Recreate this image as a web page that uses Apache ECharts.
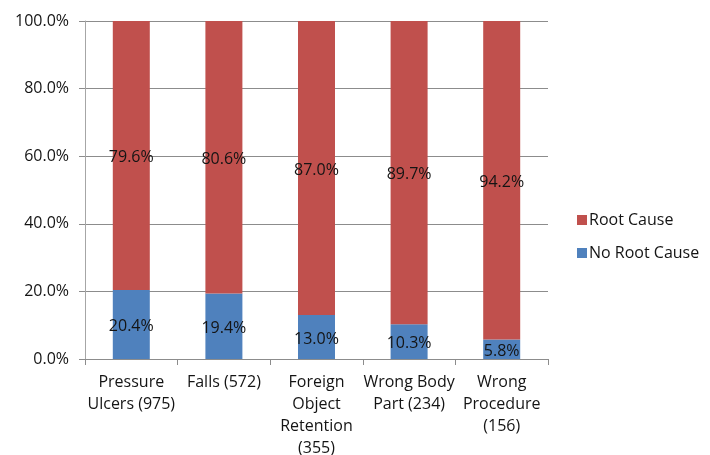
<!DOCTYPE html>
<html>
<head>
<meta charset="utf-8">
<script src="https://cdn.jsdelivr.net/npm/echarts@6/dist/echarts.min.js"></script>
<style>
  html, body { margin: 0; padding: 0; background: #fff; }
  #chart { width: 710px; height: 455px; }
</style>
</head>
<body>
<div id="chart"></div>
<script>
// Event types with case counts (wrapped for the category axis)
const categories = [
  'Pressure\nUlcers (975)',
  'Falls (572)',
  'Foreign\nObject\nRetention\n(355)',
  'Wrong Body\nPart (234)',
  'Wrong\nProcedure\n(156)'
];
// Share of events (%) with and without an identified root cause
const noRootCause = [20.4, 19.4, 13.0, 10.3, 5.8];
const rootCause = [79.6, 80.6, 87.0, 89.7, 94.2];
const yTicks = { min: 0, max: 100, interval: 20 };

const FONT = '"Open Sans", "Noto Sans", sans-serif';
const TEXT = '#141414';
const pct = v => v.toFixed(1) + '%';

const chart = echarts.init(document.getElementById('chart'), null, { renderer: 'canvas' });
chart.setOption({
  animation: false,
  backgroundColor: '#ffffff',
  textStyle: { fontFamily: FONT },
  grid: {
    left: 85, right: 162, top: 21, bottom: 96,
    containLabel: false,
    // the last category label runs past the bottom edge; keep the plot fixed
    outerBoundsMode: 'none'
  },
  legend: {
    orient: 'vertical',
    left: 572,
    top: 207,
    itemWidth: 10,
    itemHeight: 10,
    itemGap: 17,
    icon: 'rect',
    data: ['Root Cause', 'No Root Cause'],
    textStyle: { fontFamily: FONT, fontSize: 16, color: TEXT, padding: [0, 0, 0, -3] }
  },
  xAxis: {
    type: 'category',
    data: categories,
    axisLine: { show: true, lineStyle: { color: '#8c8c8c', width: 1 } },
    axisTick: { show: true, length: 6, alignWithLabel: false, lineStyle: { color: '#8c8c8c' } },
    axisLabel: {
      interval: 0,
      margin: 12,
      fontFamily: FONT,
      fontSize: 16,
      lineHeight: 22,
      color: TEXT,
      align: 'center'
    }
  },
  yAxis: {
    type: 'value',
    min: yTicks.min,
    max: yTicks.max,
    interval: yTicks.interval,
    axisLine: { show: true, lineStyle: { color: '#a6a6a6', width: 1 } },
    axisTick: { show: true, length: 6, lineStyle: { color: '#8c8c8c' } },
    splitLine: { show: true, lineStyle: { color: '#8c8c8c', width: 1 } },
    axisLabel: {
      margin: 16,
      fontFamily: FONT,
      fontSize: 16,
      color: TEXT,
      formatter: v => pct(v)
    }
  },
  series: [
    {
      name: 'No Root Cause',
      type: 'bar',
      stack: 'total',
      barWidth: 37,
      data: noRootCause,
      itemStyle: { color: '#4f81bd' },
      label: {
        show: true,
        position: 'inside',
        offset: [0, 2],
        fontFamily: FONT,
        fontSize: 16,
        color: TEXT,
        formatter: p => pct(p.value)
      }
    },
    {
      name: 'Root Cause',
      type: 'bar',
      stack: 'total',
      barWidth: 37,
      data: rootCause,
      itemStyle: { color: '#c0504d' },
      label: {
        show: true,
        position: 'inside',
        offset: [0, 2],
        fontFamily: FONT,
        fontSize: 16,
        color: TEXT,
        formatter: p => pct(p.value)
      }
    }
  ]
});
</script>
</body>
</html>
